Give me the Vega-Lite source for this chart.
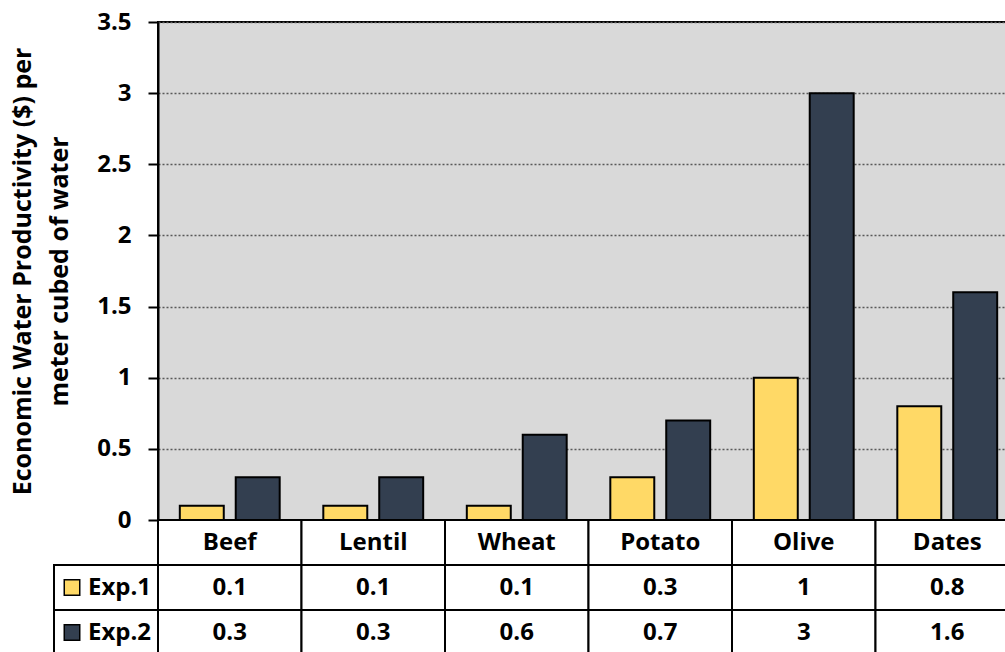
{
  "$schema": "https://vega.github.io/schema/vega-lite/v6.json",
  "padding": {"left": 9, "top": 9, "right": 0, "bottom": 0},
  "background": "white",
  "config": {
    "font": "Open Sans",
    "view": {"stroke": null},
    "text": {"font": "Open Sans"}
  },
  "datasets": {
    "wp": [
      {"crop": "Beef", "exp": "Exp.1", "value": 0.1},
      {"crop": "Beef", "exp": "Exp.2", "value": 0.3},
      {"crop": "Lentil", "exp": "Exp.1", "value": 0.1},
      {"crop": "Lentil", "exp": "Exp.2", "value": 0.3},
      {"crop": "Wheat", "exp": "Exp.1", "value": 0.1},
      {"crop": "Wheat", "exp": "Exp.2", "value": 0.6},
      {"crop": "Potato", "exp": "Exp.1", "value": 0.3},
      {"crop": "Potato", "exp": "Exp.2", "value": 0.7},
      {"crop": "Olive", "exp": "Exp.1", "value": 1},
      {"crop": "Olive", "exp": "Exp.2", "value": 3},
      {"crop": "Dates", "exp": "Exp.1", "value": 0.8},
      {"crop": "Dates", "exp": "Exp.2", "value": 1.6}
    ],
    "series": [
      {"exp": "Exp.1"},
      {"exp": "Exp.2"}
    ]
  },
  "columns": 2,
  "bounds": "flush",
  "spacing": 0,
  "concat": [
    {
      "width": 104,
      "height": 498,
      "data": {"values": []},
      "mark": "point",
      "encoding": {}
    },
    {
      "width": 861,
      "height": 498,
      "data": {"name": "wp"},
      "view": {"fill": "#d9d9d9", "stroke": "black", "strokeWidth": 2},
      "mark": {"type": "bar", "stroke": "black", "strokeWidth": 2},
      "encoding": {
        "x": {
          "field": "crop",
          "type": "nominal",
          "sort": ["Beef", "Lentil", "Wheat", "Potato", "Olive", "Dates"],
          "scale": {"paddingInner": 0, "paddingOuter": 0},
          "axis": null
        },
        "xOffset": {
          "field": "exp",
          "type": "nominal",
          "scale": {"paddingInner": 0.214, "paddingOuter": 0.39}
        },
        "y": {
          "field": "value",
          "type": "quantitative",
          "scale": {"domain": [0, 3.5], "nice": false},
          "axis": {
            "values": [0, 0.5, 1, 1.5, 2, 2.5, 3, 3.5],
            "format": "~g",
            "labelFontSize": 24,
            "labelFontWeight": "bold",
            "labelColor": "black",
            "labelPadding": 17,
            "tickSize": 10,
            "tickColor": "black",
            "tickWidth": 2,
            "domainColor": "black",
            "domainWidth": 2,
            "grid": true,
            "gridColor": "#595959",
            "gridDash": [2, 2],
            "gridWidth": 1.5,
            "title": ["Economic Water Productivity ($) per", "meter cubed of water"],
            "titleFontSize": 25,
            "titleFontWeight": "bold",
            "titleColor": "black",
            "titleLineHeight": 37,
            "titlePadding": 24
          }
        },
        "color": {
          "field": "exp",
          "type": "nominal",
          "scale": {"domain": ["Exp.1", "Exp.2"], "range": ["#FFD966", "#333F50"]},
          "legend": null
        }
      }
    },
    {
      "width": 104,
      "height": 135,
      "data": {"name": "series"},
      "encoding": {
        "y": {
          "field": "exp",
          "type": "nominal",
          "scale": {"domain": ["Crop", "Exp.1", "Exp.2"], "padding": 0},
          "axis": null
        }
      },
      "layer": [
        {"mark": {"type": "rect", "fill": "white", "stroke": "black", "strokeWidth": 2}},
        {
          "mark": {"type": "point", "shape": "square", "size": 240, "filled": true, "stroke": "black", "strokeWidth": 1.5, "opacity": 1, "xOffset": -34},
          "encoding": {
            "color": {
              "field": "exp",
              "type": "nominal",
              "scale": {"domain": ["Exp.1", "Exp.2"], "range": ["#FFD966", "#333F50"]},
              "legend": null
            }
          }
        },
        {
          "mark": {"type": "text", "align": "left", "dx": -18, "fontSize": 24, "fontWeight": "bold", "color": "black"},
          "encoding": {"text": {"field": "exp", "type": "nominal"}}
        }
      ]
    },
    {
      "width": 861,
      "height": 135,
      "data": {"name": "wp"},
      "encoding": {
        "x": {
          "field": "crop",
          "type": "nominal",
          "sort": ["Beef", "Lentil", "Wheat", "Potato", "Olive", "Dates"],
          "scale": {"paddingInner": 0, "paddingOuter": 0},
          "axis": null
        }
      },
      "layer": [
        {
          "mark": {"type": "rect", "fill": "white", "stroke": "black", "strokeWidth": 2},
          "encoding": {
            "y": {
              "field": "exp",
              "type": "nominal",
              "scale": {"domain": ["Crop", "Exp.1", "Exp.2"], "padding": 0},
              "axis": null
            }
          }
        },
        {
          "mark": {"type": "text", "fontSize": 24, "fontWeight": "bold", "color": "black"},
          "encoding": {
            "y": {"field": "exp", "type": "nominal"},
            "text": {"field": "value", "type": "quantitative"}
          }
        },
        {
          "transform": [{"filter": "datum.exp === 'Exp.1'"}],
          "mark": {"type": "rect", "fill": "white", "stroke": "black", "strokeWidth": 2},
          "encoding": {"y": {"datum": "Crop"}}
        },
        {
          "transform": [{"filter": "datum.exp === 'Exp.1'"}],
          "mark": {"type": "text", "fontSize": 24, "fontWeight": "bold", "color": "black"},
          "encoding": {
            "y": {"datum": "Crop"},
            "text": {"field": "crop", "type": "nominal"}
          }
        }
      ]
    }
  ]
}
